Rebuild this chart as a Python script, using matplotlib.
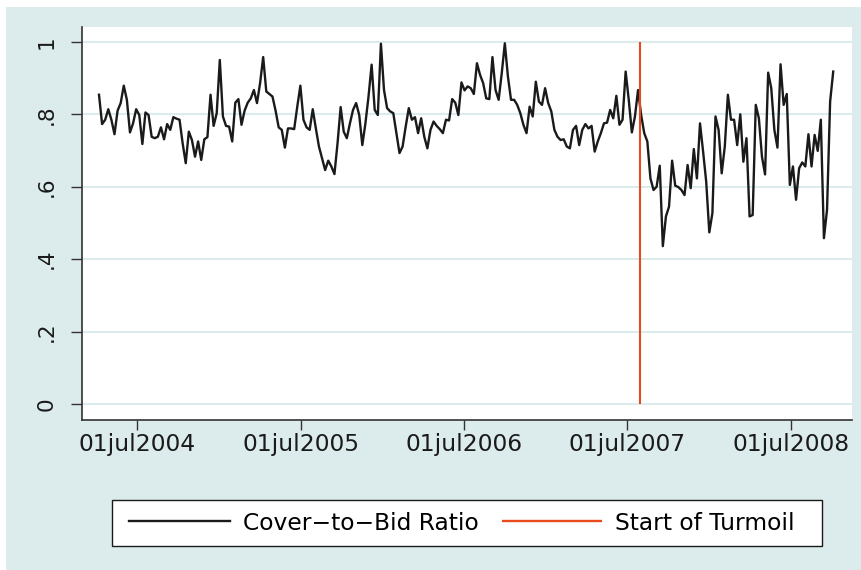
import numpy as np
import pandas as pd
import matplotlib
matplotlib.use("Agg")
import matplotlib.pyplot as plt
from matplotlib.patches import Rectangle

# weekly cover-to-bid ratio
ratio_2004_05 = [
    0.854, 0.773, 0.785, 0.814, 0.785, 0.745, 0.810, 0.831, 0.879, 0.840,
    0.750, 0.775, 0.814, 0.798, 0.718, 0.805, 0.798, 0.738, 0.734, 0.738,
    0.764, 0.731, 0.773, 0.757, 0.792, 0.788, 0.785, 0.720, 0.665, 0.752,
    0.729, 0.683, 0.725, 0.674, 0.731, 0.737, 0.854, 0.768, 0.803, 0.950,
    0.794, 0.768, 0.766, 0.725, 0.832, 0.842, 0.771, 0.810, 0.832, 0.844,
    0.867, 0.831, 0.886, 0.958, 0.863, 0.856, 0.849, 0.810, 0.764, 0.757,
    0.708, 0.761, 0.761, 0.759, 0.821, 0.879, 0.785, 0.764, 0.757, 0.814,
    0.761, 0.711, 0.679, 0.646, 0.672, 0.656, 0.635, 0.720, 0.820, 0.752,
    0.734, 0.775, 0.812, 0.831,
]
ratio_2005_07 = [
    0.798, 0.715, 0.775, 0.849, 0.937, 0.812, 0.798, 0.995, 0.867, 0.817,
    0.808, 0.803, 0.748, 0.693, 0.711, 0.766, 0.817, 0.785, 0.792, 0.748,
    0.789, 0.738, 0.706, 0.757, 0.780, 0.768, 0.759, 0.748, 0.785, 0.783,
    0.842, 0.832, 0.798, 0.888, 0.866, 0.877, 0.872, 0.856, 0.941, 0.909,
    0.886, 0.844, 0.842, 0.958, 0.867, 0.840, 0.913, 0.996, 0.904, 0.840,
    0.840, 0.826, 0.803, 0.771, 0.748, 0.821, 0.794, 0.890, 0.835, 0.826,
    0.872, 0.831, 0.808, 0.757, 0.738, 0.729, 0.731, 0.711, 0.706, 0.757,
    0.768, 0.715, 0.757, 0.773, 0.761, 0.768, 0.697, 0.725, 0.748, 0.775,
    0.777, 0.812, 0.789, 0.851, 0.771, 0.785, 0.918, 0.840, 0.750, 0.794,
    0.867,
]
ratio_2007_08 = [
    0.798, 0.748, 0.725, 0.623, 0.591, 0.600, 0.658, 0.436, 0.518, 0.545,
    0.672, 0.603, 0.599, 0.591, 0.577, 0.660, 0.596, 0.704, 0.623, 0.775,
    0.697, 0.614, 0.474, 0.527, 0.794, 0.757, 0.637, 0.711, 0.854, 0.785,
    0.785, 0.715, 0.800, 0.669, 0.734, 0.518, 0.522, 0.826, 0.789, 0.683,
    0.634, 0.915, 0.872, 0.757, 0.708, 0.938, 0.826, 0.856, 0.605, 0.656,
    0.564, 0.651, 0.667, 0.656, 0.745, 0.656, 0.743, 0.699, 0.785, 0.458,
    0.536, 0.835, 0.918,
]
ratio = ratio_2004_05 + ratio_2005_07 + ratio_2007_08
first_week = "2004-04-06"
last_week = "2008-10-04"
turmoil_date = pd.Timestamp("2007-07-31")

tick_dates = ["2004-07-01", "2005-07-01", "2006-07-01", "2007-07-01", "2008-07-01"]
tick_labels = ["01jul2004", "01jul2005", "01jul2006", "01jul2007", "01jul2008"]
y_ticks = [0, 0.2, 0.4, 0.6, 0.8, 1.0]
y_labels = ["0", ".2", ".4", ".6", ".8", "1"]

dates = pd.date_range(first_week, last_week, periods=len(ratio))

bg = "#DCEBEC"
red = "#E8491D"
axis_col = "#333333"
W, H = 862, 570

plt.rcParams["font.family"] = ["DejaVu Sans"]
fig = plt.figure(figsize=(8.62, 5.70), dpi=100, facecolor="white")
# graph region (light bluish) and the legend box
fig.patches.append(Rectangle((6 / W, 0), 1, 1 - 7 / H, transform=fig.transFigure,
                             facecolor=bg, edgecolor="none", zorder=-10))
fig.patches.append(Rectangle((112 / W, 1 - 546 / H), 710 / W, 46 / H, transform=fig.transFigure,
                             facecolor="white", edgecolor="#1a1a1a", lw=1.0, zorder=-5))

ax = fig.add_axes([82 / W, 150 / H, 770 / W, 393 / H])
ax.set_zorder(1)
ax.set_facecolor("white")

ax.plot(dates, ratio, color="#1a1a1a", lw=1.7, label="Cover\u2212to\u2212Bid Ratio", zorder=3)
ax.vlines(turmoil_date, 0, 1, color=red, lw=1.5, label="Start of Turmoil", zorder=4)

ax.set_xlim(pd.Timestamp("2004-02-28"), pd.Timestamp("2008-11-15"))
ax.set_ylim(-0.044, 1.041)

ax.set_xticks(pd.to_datetime(tick_dates))
ax.set_xticklabels(tick_labels, fontsize=16.8, color="#1a1a1a")
ax.set_yticks(y_ticks)
ax.set_yticklabels(y_labels, fontsize=15.5, color="#1a1a1a", rotation=90, va="center")

ax.tick_params(axis="x", length=7, width=1, color=axis_col, pad=2)
ax.tick_params(axis="y", length=8, width=1, color=axis_col, pad=10)

ax.yaxis.grid(True, color=bg, lw=1.5)
ax.set_axisbelow(True)
for side in ["top", "right"]:
    ax.spines[side].set_visible(False)
for side in ["left", "bottom"]:
    ax.spines[side].set_color(axis_col)
    ax.spines[side].set_linewidth(1.2)

leg = fig.legend(loc="center", bbox_to_anchor=(462 / W, 1 - 523 / H), ncol=2,
                 fontsize=16.8, frameon=False,
                 handlelength=4.3, handletextpad=0.56, columnspacing=1.0,
                 borderpad=0.5, borderaxespad=0)
for h in leg.legend_handles:
    h.set_linewidth(1.7)

fig.savefig("out.png", dpi=100, facecolor=fig.get_facecolor())
